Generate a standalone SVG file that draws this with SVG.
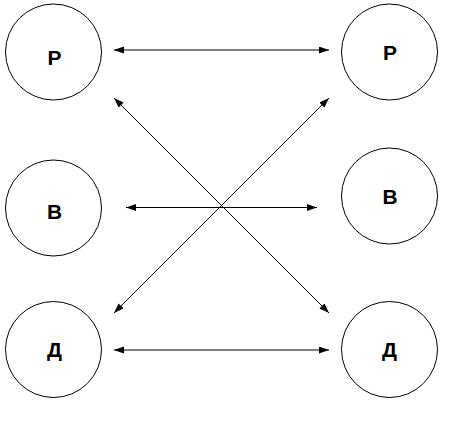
<svg xmlns="http://www.w3.org/2000/svg" width="451" height="432" viewBox="0 0 451 432">
<style>
.node circle{fill:#fff;stroke:#000;stroke-width:1}
.node text{font-family:"Liberation Sans",Arial,sans-serif;font-weight:bold;font-size:21px;text-anchor:middle;fill:#000}
.conn line{stroke:#000;stroke-width:1;marker-start:url(#ah);marker-end:url(#ah)}
</style>
<defs>
<marker id="ah" markerUnits="userSpaceOnUse" markerWidth="11" markerHeight="8" refX="10" refY="3.5" orient="auto-start-reverse">
<path d="M0,0 L10,3.5 L0,7 z" fill="#000"/>
</marker>
</defs>
<rect width="451" height="432" fill="#fff"/>
<g id="node-r-left" class="node"><circle cx="53.5" cy="52" r="48"/><text x="54.5" y="65">Р</text></g>
<g id="node-r-right" class="node"><circle cx="389.5" cy="52" r="48"/><text x="390" y="60">Р</text></g>
<g id="node-v-left" class="node"><circle cx="53.5" cy="208" r="48"/><text x="54.5" y="219">В</text></g>
<g id="node-v-right" class="node"><circle cx="389.5" cy="196" r="48"/><text x="390" y="204">В</text></g>
<g id="node-d-left" class="node"><circle cx="53.5" cy="349.5" r="48"/><text x="54.5" y="357">Д</text></g>
<g id="node-d-right" class="node"><circle cx="389.5" cy="349.5" r="48"/><text x="389.5" y="357">Д</text></g>
<g id="connectors" class="conn">
<line x1="114" y1="50" x2="329" y2="50"/>
<line x1="126" y1="207.5" x2="317" y2="207.5"/>
<line x1="114" y1="350" x2="329" y2="350"/>
<line x1="114" y1="98" x2="329" y2="313"/>
<line x1="329" y1="98" x2="114" y2="313"/>
</g>
</svg>
